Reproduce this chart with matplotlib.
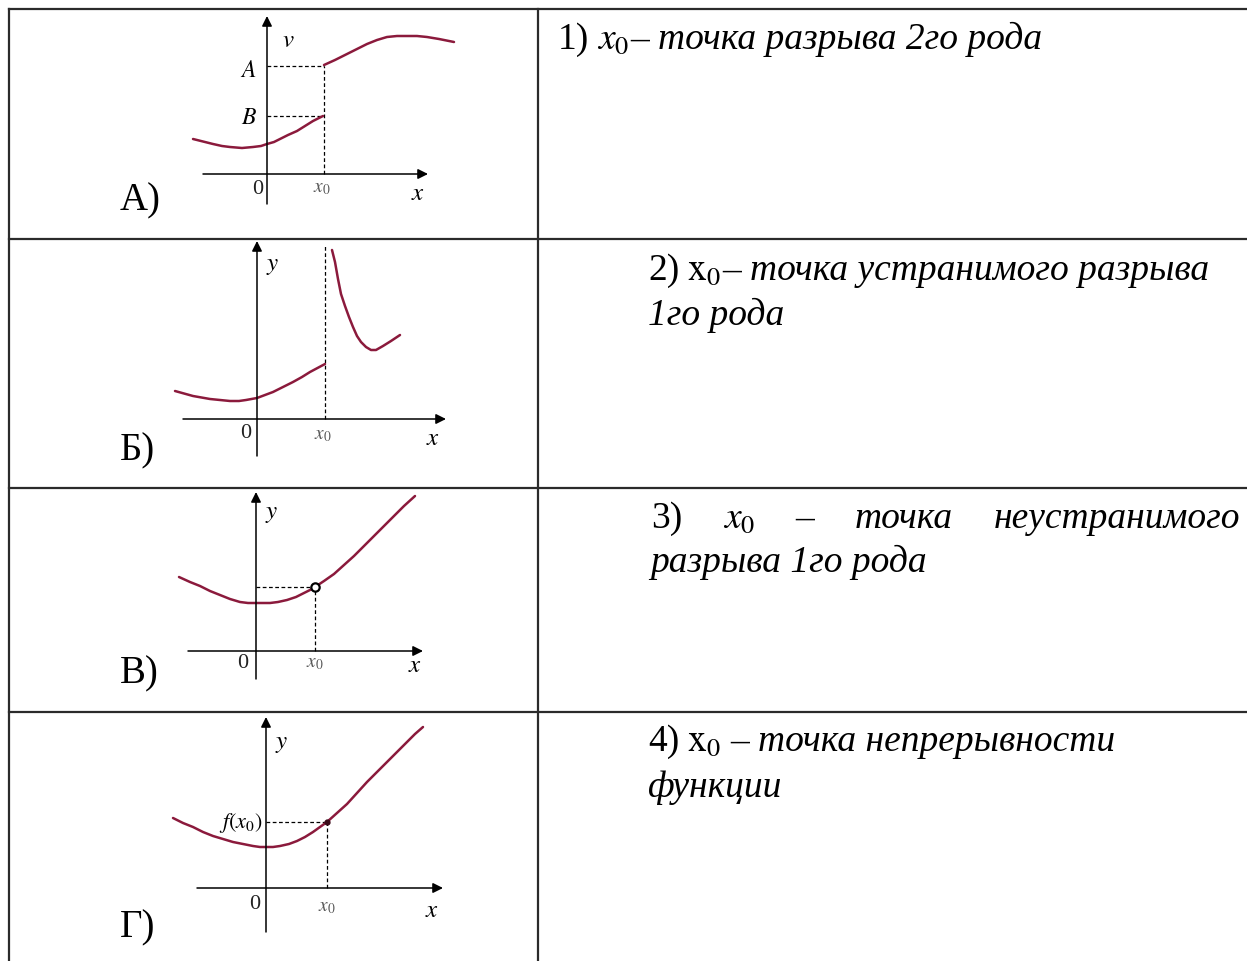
import matplotlib
matplotlib.use("Agg")
import matplotlib.pyplot as plt
import numpy as np

plt.rcParams["mathtext.fontset"] = "stix"

W, H = 1247, 962
SERIF = "Liberation Serif"
CURVE = "#8b1a3c"
TXT = 27

# ── Data (offsets from each panel's origin, y up) ───────────────────────────
# A) jump discontinuity
a_left_x = [-74, -62, -54, -45, -37, -25, -14, -6, 0, 7, 13, 21, 30, 38, 46, 56]
a_left_y = [35, 32, 30, 28, 27, 26, 27, 28, 30, 32, 35, 39, 43, 48, 53, 58]
a_right_x = [57, 68, 80, 90, 100, 110, 120, 130, 140, 150, 160, 172, 187]
a_right_y = [109, 114, 120, 125, 130, 134, 137, 138, 138, 138, 137, 135, 132]
a_x0, a_A, a_B = 57, 108, 58

# Б) infinite discontinuity
b_left_x = [-82, -64, -47, -37, -27, -18, -11, 0, 8, 16, 26, 36, 45, 53, 68]
b_left_y = [28, 23, 20, 19, 18, 18, 19, 21, 24, 27, 32, 37, 42, 47, 55]
b_right_x = [75, 78, 81, 84, 88, 92, 96, 100, 104, 109, 114, 119, 126, 134, 143]
b_right_y = [169, 157, 140, 125, 113, 102, 92, 83, 77, 72, 69, 69, 73, 78, 84]
b_x0, b_top = 68, 173

# В) removable discontinuity
c_x = [-77, -66, -56, -46, -36, -26, -16, -8, 0, 7, 14, 22, 31, 40, 48, 54, 59,
       68, 78, 88, 98, 108, 118, 128, 138, 148, 159]
c_y = [74, 69, 65, 60, 56, 52, 49, 48, 48, 48, 48, 49, 51, 54, 58, 61, 64,
       70, 77, 86, 95, 105, 115, 125, 135, 145, 155]
c_x0, c_y0 = 59, 64

# Г) continuous point
d_x = [-93, -83, -73, -63, -53, -43, -33, -23, -13, -6, 0, 7, 14, 23, 31, 39, 47,
       54, 61, 71, 81, 91, 101, 111, 121, 131, 141, 149, 157]
d_y = [70, 65, 61, 56, 52, 49, 46, 44, 42, 41, 41, 41, 42, 44, 47, 51, 56,
       61, 66, 75, 84, 95, 106, 116, 126, 136, 146, 154, 161]
d_x0, d_y0 = 61, 66

row_labels = ["А)", "Б)", "В)", "Г)"]

fig = plt.figure(figsize=(W / 100, H / 100), dpi=100, facecolor="white")
ax = fig.add_axes([0, 0, 1, 1])
ax.set_xlim(0, W)
ax.set_ylim(H, 0)
ax.axis("off")

# ── Table grid ──────────────────────────────────────────────────────────────
grid_kw = dict(color="#2b2b2b", lw=1.6)
ax.plot([9, W], [9.5, 9.5], **grid_kw)
for yy in [239.5, 489, 713]:
    ax.plot([9, W], [yy, yy], **grid_kw)
ax.plot([9, 9], [9.5, H], **grid_kw)
ax.plot([538, 538], [9.5, H], **grid_kw)

# row letters
for lab, yb in zip(row_labels, [210, 460, 683, 937]):
    ax.text(120, yb, lab, fontsize=28, family=SERIF, va="baseline", ha="left")


# ── Right column text ──────────────────────────────────────────────────────
renderer = fig.canvas.get_renderer()


def runs(x, y, parts, size=TXT):
    for s, style, gap in parts:
        t = ax.text(x, y, s, fontsize=size, fontstyle=style, family=SERIF,
                    va="baseline", ha="left")
        x += t.get_window_extent(renderer).width + gap


def justified(x0, x1, y, parts, size=TXT):
    items = [ax.text(0, y, s, fontsize=size, fontstyle=st, family=SERIF, va="baseline")
             for s, st in parts]
    widths = [t.get_window_extent(renderer).width for t in items]
    gap = (x1 - x0 - sum(widths)) / (len(items) - 1)
    x = x0
    for t, w in zip(items, widths):
        t.set_x(x)
        x += w + gap


runs(558, 49, [("1)", "normal", 8), (r"$x_0$", "italic", 1), ("–", "normal", 9),
               ("точка разрыва 2го рода", "italic", 0)])
runs(648, 280, [("2)", "normal", 8), (r"$\mathrm{x}_0$", "normal", 1), ("–", "normal", 9),
                ("точка устранимого разрыва", "italic", 0)])
runs(648, 325, [("1го рода", "italic", 0)])

justified(651, 1240, 528, [("3)", "normal"), (r"$x_0$", "italic"), ("–", "normal"),
                           ("точка", "italic"), ("неустранимого", "italic")])
runs(650, 572, [("разрыва 1го рода", "italic", 0)])

runs(648, 751, [("4)", "normal", 8), (r"$\mathrm{x}_0$", "normal", 9), ("–", "normal", 9),
                ("точка непрерывности", "italic", 0)])
runs(648, 797, [("функции", "italic", 0)])


# ── Small graphs ────────────────────────────────────────────────────────────
def panel(ox, oy, x0=-110, x1=200, y0=-60, y1=190):
    a = fig.add_axes([(ox + x0) / W, (H - oy + y0) / H, (x1 - x0) / W, (y1 - y0) / H])
    a.set_xlim(x0, x1)
    a.set_ylim(y0, y1)
    a.axis("off")
    a.patch.set_visible(False)
    return a


def axes_arrows(a, xl, xr, yb, yt):
    arr = dict(arrowstyle="-|>", color="black", lw=1.1, mutation_scale=15,
               shrinkA=0, shrinkB=0)
    a.annotate("", xy=(xr, 0), xytext=(xl, 0), arrowprops=arr)
    a.annotate("", xy=(0, yt), xytext=(0, yb), arrowprops=arr)


dash = dict(color="black", lw=0.9, ls=(0, (3, 2)))
lab = dict(fontsize=18, color="black")
num = dict(fontsize=16, family=SERIF, color="#222222")
sub = dict(fontsize=14, color="#555555")
cw = 1.8
ckw = dict(color=CURVE, lw=cw, solid_capstyle="round", solid_joinstyle="round")

# A)
pa = panel(267, 175)
axes_arrows(pa, -64, 161, -30, 158)
pa.plot([0, a_x0], [a_A, a_A], **dash)
pa.plot([0, a_x0], [a_B, a_B], **dash)
pa.plot([a_x0, a_x0], [0, a_A], **dash)
pa.plot(a_left_x, a_left_y, **ckw)
pa.plot(a_right_x, a_right_y, **ckw)
pa.text(15, 135, r"$v$", ha="left", va="center", **lab)
pa.text(-10, 105, r"$A$", ha="right", va="center", fontsize=17)
pa.text(-10, 58, r"$B$", ha="right", va="center", fontsize=17)
pa.text(-9, -15, "0", ha="center", va="center", **num)
pa.text(a_x0 - 2, -13, r"$x_0$", ha="center", va="center", **sub)
pa.text(151, -18, r"$x$", ha="center", va="center", **lab)

# Б)
pb = panel(257, 420)
axes_arrows(pb, -74, 189, -37, 178)
pb.plot([b_x0, b_x0], [0, b_top], **dash)
pb.plot(b_left_x, b_left_y, **ckw)
pb.plot(b_right_x, b_right_y, **ckw)
pb.text(16, 155, r"$y$", ha="center", va="center", **lab)
pb.text(-11, -13, "0", ha="center", va="center", **num)
pb.text(b_x0 - 2, -15, r"$x_0$", ha="center", va="center", **sub)
pb.text(176, -18, r"$x$", ha="center", va="center", **lab)

# В)
pc = panel(256, 652)
axes_arrows(pc, -68, 167, -28, 159)
pc.plot([0, c_x0], [c_y0, c_y0], **dash)
pc.plot([c_x0, c_x0], [0, c_y0], **dash)
pc.plot(c_x, c_y, **ckw)
pc.plot([c_x0], [c_y0], "o", ms=6, mfc="white", mec="black", mew=1.6)
pc.text(16, 139, r"$y$", ha="center", va="center", **lab)
pc.text(-13, -11, "0", ha="center", va="center", **num)
pc.text(c_x0, -11, r"$x_0$", ha="center", va="center", **sub)
pc.text(159, -13, r"$x$", ha="center", va="center", **lab)

# Г)
pd = panel(266, 889)
axes_arrows(pd, -69, 177, -44, 171)
pd.plot([0, d_x0], [d_y0, d_y0], **dash)
pd.plot([d_x0, d_x0], [0, d_y0], **dash)
pd.plot(d_x, d_y, **ckw)
pd.plot([d_x0], [d_y0], "o", ms=3.5, color="#3a0a18")
pd.text(16, 146, r"$y$", ha="center", va="center", **lab)
pd.text(-3, 66, r"$f(x_0)$", ha="right", va="center", fontsize=16)
pd.text(-11, -16, "0", ha="center", va="center", **num)
pd.text(d_x0, -18, r"$x_0$", ha="center", va="center", **sub)
pd.text(166, -21, r"$x$", ha="center", va="center", **lab)

fig.savefig("out.png", dpi=100, facecolor="white")
